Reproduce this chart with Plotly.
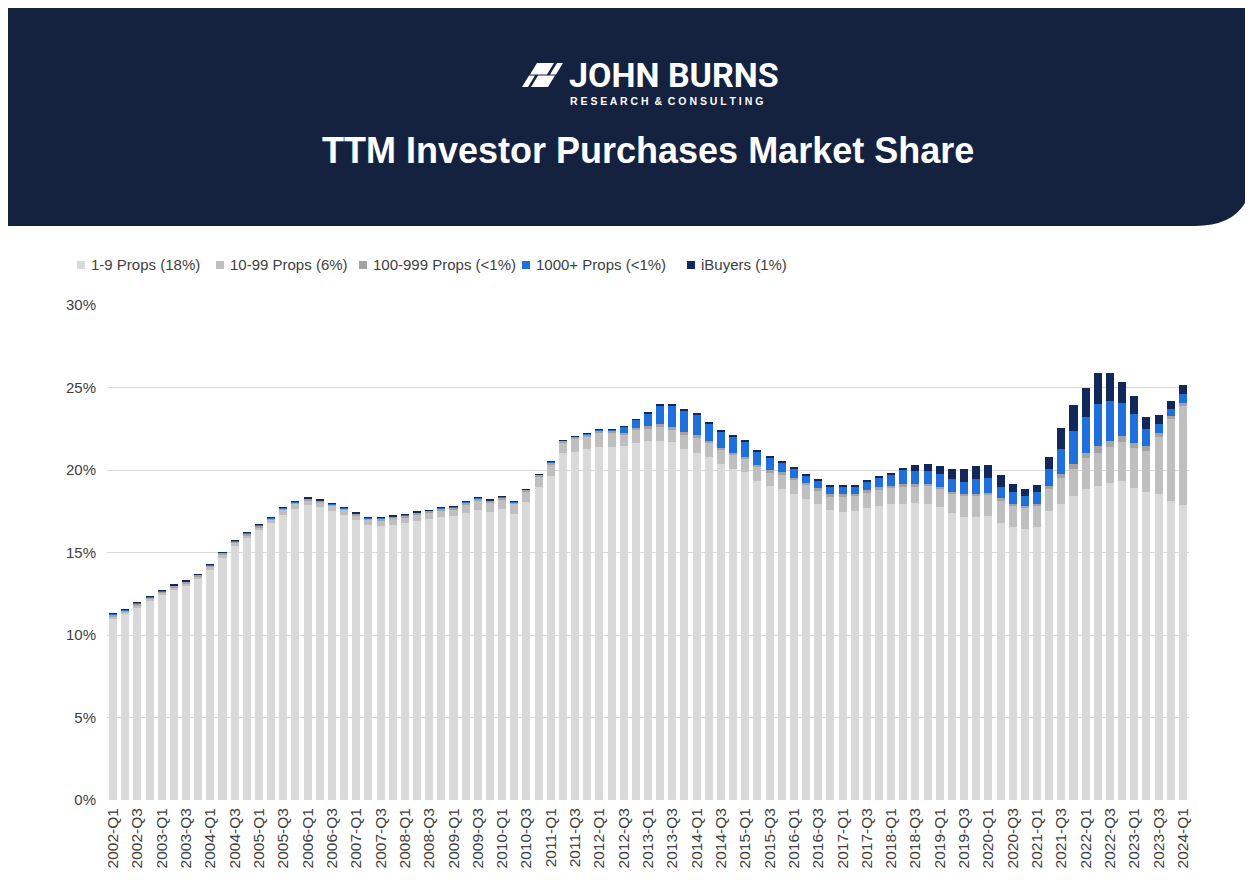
import plotly.graph_objects as go

years = list(range(2002, 2025))
quarters = [f"{y}-Q{q}" for y in years for q in (1, 2, 3, 4)][:89]

props_1_9 = [11.0, 11.25, 11.66, 12.04, 12.40, 12.75, 12.99, 13.39, 13.94, 14.67, 15.38, 15.86, 16.34, 16.79,
             17.29, 17.65, 17.86, 17.74, 17.53, 17.29, 16.95, 16.69,
             16.58, 16.67, 16.77, 16.91, 17.02, 17.13, 17.19, 17.39, 17.58, 17.44, 17.66, 17.36, 18.09, 18.95,
             19.62, 21.01, 21.11, 21.27, 21.41, 21.41,
             21.45, 21.64, 21.74, 21.77, 21.67, 21.27, 21.06, 20.80, 20.39, 20.09, 19.85, 19.34, 19.04, 18.84,
             18.57, 18.27, 17.92, 17.56, 17.48, 17.52, 17.72, 17.83, 17.93, 17.94, 18.03, 17.97, 17.73, 17.42,
             17.16, 17.16, 17.22, 16.77, 16.56, 16.42, 16.52, 17.52, 17.97, 18.43, 18.84, 19.04, 19.24, 19.34,
             18.93, 18.69, 18.52, 18.13, 17.88]

props_10_99 = [0.15, 0.15, 0.15, 0.15, 0.15, 0.15, 0.15, 0.15, 0.20, 0.20, 0.20, 0.20, 0.20, 0.20,
               0.30, 0.30, 0.30, 0.30, 0.30, 0.30, 0.30, 0.30,
               0.38, 0.38, 0.38, 0.38, 0.38, 0.43, 0.43, 0.53, 0.58, 0.58, 0.58, 0.58, 0.58, 0.63,
               0.73, 0.63, 0.77, 0.79, 0.87, 0.87,
               0.69, 0.79, 0.79, 0.86, 0.76, 0.86, 0.90, 0.82, 0.82, 0.82, 0.80, 0.82, 0.80, 0.86,
               0.82, 0.82, 0.82, 0.82, 0.90, 0.90, 0.90, 0.96, 0.96, 1.06, 0.96, 1.06, 1.10, 1.12,
               1.26, 1.26, 1.26, 1.37, 1.26, 1.26, 1.30, 1.32, 1.53, 1.62, 1.87, 2.02, 2.13, 2.33,
               2.38, 2.47, 3.49, 4.95, 6.00]

props_100_999 = [0.10, 0.10, 0.10, 0.10, 0.10, 0.10, 0.10, 0.10, 0.10, 0.10, 0.10, 0.10, 0.10, 0.10,
                 0.10, 0.10, 0.10, 0.10, 0.10, 0.10, 0.10, 0.10,
                 0.12, 0.12, 0.12, 0.12, 0.12, 0.12, 0.12, 0.12, 0.12, 0.12, 0.12, 0.12, 0.12, 0.12,
                 0.12, 0.12, 0.12, 0.12, 0.12, 0.12,
                 0.12, 0.12, 0.12, 0.15, 0.15, 0.15, 0.15, 0.15, 0.15, 0.15, 0.15, 0.15, 0.15, 0.15,
                 0.15, 0.15, 0.15, 0.15, 0.15, 0.15, 0.15, 0.15, 0.15, 0.15, 0.15, 0.15, 0.15, 0.15,
                 0.15, 0.15, 0.15, 0.15, 0.15, 0.15, 0.15, 0.20, 0.25, 0.30, 0.35, 0.40, 0.40, 0.40,
                 0.35, 0.30, 0.25, 0.20, 0.20]

props_1000 = [0.03, 0.03, 0.03, 0.03, 0.03, 0.03, 0.03, 0.03, 0.03, 0.03, 0.03, 0.03, 0.03, 0.03,
              0.03, 0.03, 0.03, 0.03, 0.03, 0.03, 0.03, 0.03,
              0.03, 0.03, 0.03, 0.03, 0.03, 0.03, 0.03, 0.03, 0.03, 0.03, 0.03, 0.03, 0.03, 0.03,
              0.03, 0.03, 0.03, 0.03, 0.03, 0.03,
              0.36, 0.50, 0.80, 1.15, 1.35, 1.31, 1.25, 1.05, 0.95, 0.95, 0.91, 0.83, 0.75, 0.61,
              0.55, 0.45, 0.49, 0.45, 0.45, 0.45, 0.51, 0.59, 0.71, 0.90, 0.80, 0.77, 0.77, 0.75,
              0.73, 0.87, 0.87, 0.69, 0.67, 0.61, 0.67, 1.01, 1.52, 2.02, 2.16, 2.53, 2.42, 2.02,
              1.72, 1.01, 0.55, 0.40, 0.51]

ibuyers = [0.02, 0.02, 0.02, 0.02, 0.02, 0.02, 0.02, 0.02, 0.02, 0.02, 0.02, 0.02, 0.02, 0.02,
           0.02, 0.02, 0.02, 0.02, 0.02, 0.02, 0.02, 0.02,
           0.02, 0.02, 0.02, 0.02, 0.02, 0.02, 0.02, 0.02, 0.02, 0.02, 0.02, 0.02, 0.02, 0.02,
           0.02, 0.02, 0.02, 0.02, 0.02, 0.02,
           0.02, 0.03, 0.05, 0.06, 0.06, 0.06, 0.06, 0.06, 0.06, 0.06, 0.06, 0.06, 0.06, 0.06,
           0.06, 0.06, 0.06, 0.06, 0.06, 0.06, 0.06, 0.06, 0.06, 0.10, 0.35, 0.44, 0.50, 0.65,
           0.79, 0.81, 0.81, 0.73, 0.50, 0.40, 0.44, 0.75, 1.27, 1.58, 1.74, 1.86, 1.66, 1.27,
           1.11, 0.75, 0.51, 0.51, 0.55]

series_names = ["1-9 Props (18%)", "10-99 Props (6%)", "100-999 Props (<1%)", "1000+ Props (<1%)", "iBuyers (1%)"]
series_values = [props_1_9, props_10_99, props_100_999, props_1000, ibuyers]
series_colors = ["#d9d9d9", "#bfbfbf", "#a3a3a3", "#1f6fdc", "#13285a"]

y_ticks = [0, 5, 10, 15, 20, 25, 30]
y_tick_text = ["0%", "5%", "10%", "15%", "20%", "25%", "30%"]
x_tick_vals = [q for q in quarters if q.endswith("Q1") or q.endswith("Q3")]

# page layout (the page body adds an 8px margin)
OFF = 8
W, H = 1253 - OFF, 880 - OFF
PL, PR, PT, PB = 107, 1189, 305, 800   # plot box in page pixels
L, R, T, B = PL - OFF, (W + OFF) - PR, PT - OFF, (H + OFF) - PB
PW, PH = PR - PL, PB - PT


def px(x):
    return (x - PL) / PW


def py(y):
    return (PB - y) / PH


def pt(x, y):
    return f"{px(x):.5f},{py(y):.5f}"


def poly(points, color):
    path = "M" + " L".join(pt(x, y) for x, y in points) + " Z"
    return dict(type="path", xref="paper", yref="paper", path=path, fillcolor=color, line=dict(width=0))


fig = go.Figure()
for name, vals, col in zip(series_names, series_values, series_colors):
    fig.add_trace(go.Bar(x=quarters, y=vals, name=name, marker=dict(color=col, line=dict(width=0))))

NAVY = "#14213f"
shapes = [
    dict(type="path", xref="paper", yref="paper", layer="below",
         path=f"M{pt(8, 8)} L{pt(1253, 8)} L{pt(1253, 168)} Q{pt(1253, 226)} {pt(1195, 226)} L{pt(8, 226)} Z",
         fillcolor=NAVY, line=dict(width=0)),
    # logo mark: four slanted pieces
    poly([(530, 74.5), (547, 74.5), (554, 63), (537, 63)], "white"),
    poly([(550, 74.5), (556, 74.5), (563, 63), (557, 63)], "white"),
    poly([(522, 87), (528, 87), (535, 75.5), (529, 75.5)], "white"),
    poly([(531, 87), (548, 87), (555, 75.5), (538, 75.5)], "white"),
]

annotations = [
    dict(text="<b>JOHN BURNS</b>", x=px(567), y=py(74.5), xref="paper", yref="paper",
         xanchor="left", yanchor="middle", showarrow=False,
         font=dict(family="Roboto, Arial, sans-serif", size=34, color="white")),
    dict(text="<b>R E S E A R C H &nbsp;&amp;&nbsp; C O N S U L T I N G</b>", x=px(568), y=py(101),
         xref="paper", yref="paper", xanchor="left", yanchor="middle", showarrow=False,
         font=dict(family="Liberation Sans, Arial, sans-serif", size=10.5, color="white")),
    dict(text="<b>TTM Investor Purchases Market Share</b>", x=px(648), y=py(150), xref="paper", yref="paper",
         xanchor="center", yanchor="middle", showarrow=False,
         font=dict(family="Liberation Sans, Arial, sans-serif", size=36, color="white")),
]

# custom legend (marker square + label)
legend_marker_x = [77, 216, 359, 522, 687]
LEG_Y = 265
for name, col, mx in zip(series_names, series_colors, legend_marker_x):
    shapes.append(poly([(mx, LEG_Y - 4), (mx + 8, LEG_Y - 4), (mx + 8, LEG_Y + 4), (mx, LEG_Y + 4)], col))
    annotations.append(dict(text=name, x=px(mx + 12), y=py(LEG_Y), xref="paper", yref="paper",
                            xanchor="left", yanchor="middle", showarrow=False,
                            font=dict(family="Liberation Sans, Arial, sans-serif", size=15, color="#404040")))

fig.update_layout(
    width=W, height=H,
    margin=dict(l=L, r=R, t=T, b=B, pad=0),
    paper_bgcolor="white", plot_bgcolor="white",
    barmode="stack", bargap=0.34,
    font=dict(family="Liberation Sans, Arial, sans-serif", color="#404040"),
    shapes=shapes, annotations=annotations,
    showlegend=False,
    xaxis=dict(type="category", tickmode="array", tickvals=x_tick_vals, ticktext=x_tick_vals,
               tickangle=-90, tickfont=dict(size=15.5, color="#404040"), showgrid=False,
               showline=False, ticks="", ticklabelstandoff=4),
    yaxis=dict(range=[0, 30], tickmode="array", tickvals=y_ticks, ticktext=y_tick_text,
               tickfont=dict(size=15, color="#404040"), showgrid=True, gridcolor="#d9d9d9",
               gridwidth=1, zeroline=False, showline=False, ticks="", ticklabelstandoff=10),
)

fig.write_html("out.html")
